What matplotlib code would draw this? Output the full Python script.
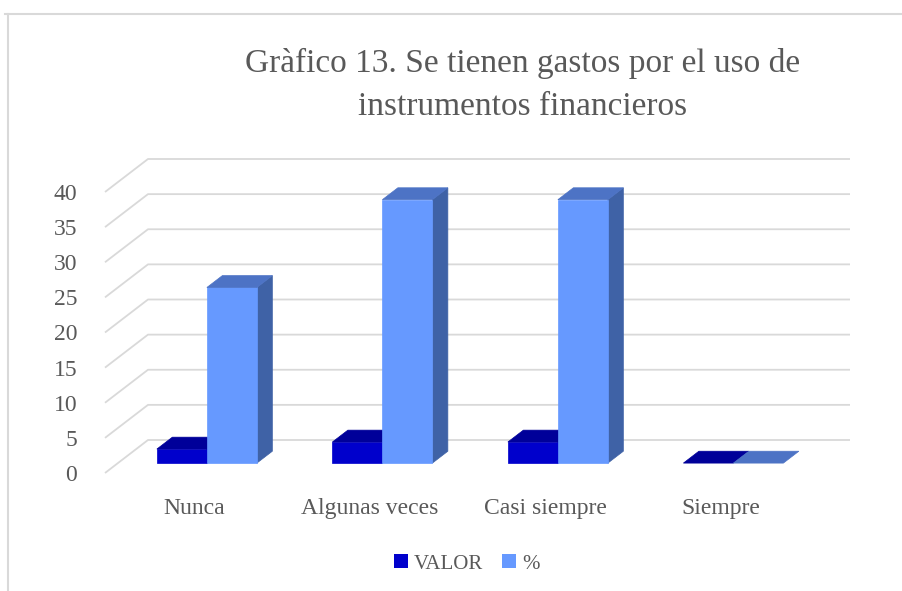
import matplotlib.pyplot as plt
from matplotlib.patches import Polygon, Rectangle, Patch
from matplotlib.lines import Line2D

# Data
categories = ["Nunca", "Algunas veces", "Casi siempre", "Siempre"]
valor = [2, 3, 3, 0]
porcentaje = [25, 37.5, 37.5, 0]
series_names = ["VALOR", "%"]
y_ticks = [0, 5, 10, 15, 20, 25, 30, 35, 40]

TEXT = "#595959"
GRID = "#d9d9d9"
# (front, top, side) colours per series
COLORS = [("#0000cc", "#000099", "#00007a"),
          ("#6699ff", "#4d73c5", "#3f62a6")]

# oblique "3D" depth offset in data units (full floor depth)
DX, DY = 43 / 175.5, 33 / 7.025
D0, D1 = 0.30, 0.66     # bars sit in the middle of the depth
W = 50 / 175.5          # bar width
XMIN, XMAX = -0.507, 3.493


def bar3d(ax, left, h, cols):
    front, top, side = cols
    x0 = left + D0 * DX
    x1 = left + W + D0 * DX
    b0 = D0 * DY
    b1 = D1 * DY
    sx = (D1 - D0) * DX
    if h > 0:
        ax.add_patch(Polygon([(x1, b0), (x1, b0 + h), (x1 + sx, b1 + h), (x1 + sx, b1)],
                             closed=True, facecolor=side, edgecolor=side, lw=0.5, clip_on=False, zorder=3))
        ax.add_patch(Rectangle((x0, b0), W, h, facecolor=front, edgecolor=front, lw=0.5,
                               clip_on=False, zorder=3))
    ax.add_patch(Polygon([(x0, b0 + h), (x1, b0 + h), (x1 + sx, b1 + h), (x0 + sx, b1 + h)],
                         closed=True, facecolor=top, edgecolor=top, lw=0.5, clip_on=False, zorder=3))


fig = plt.figure(figsize=(9.03, 5.91), dpi=100)
ax = fig.add_axes([105 / 903, 118 / 591, 702 / 903, 281 / 591])
ax.set_xlim(XMIN, XMAX)
ax.set_ylim(0, 40)

# gridlines on the side wall and back wall
for v in y_ticks:
    ax.plot([XMIN, XMIN + DX, XMAX + DX], [v, v + DY, v + DY], color=GRID, lw=1.3,
            clip_on=False, zorder=1, solid_capstyle="butt")

for i in range(len(categories)):
    bar3d(ax, i - W, valor[i], COLORS[0])
    bar3d(ax, i, porcentaje[i], COLORS[1])

for s in ax.spines.values():
    s.set_visible(False)
ax.set_yticks(y_ticks)
ax.set_yticklabels([str(v) for v in y_ticks], family="Liberation Serif", fontsize=17, color=TEXT)
ax.set_xticks(range(len(categories)))
ax.set_xticklabels(categories, family="Liberation Serif", fontsize=17, color=TEXT)
ax.tick_params(axis="y", length=0, pad=20)
ax.tick_params(axis="x", length=0, pad=18)

fig.text(523 / 903, 1 - 85 / 591, "Gràfico 13. Se tienen gastos por el uso de\ninstrumentos financieros",
         ha="center", va="center", family="Liberation Serif", fontsize=24, color=TEXT, linespacing=1.55)

handles = [Patch(facecolor=COLORS[0][0], edgecolor="none"),
           Patch(facecolor=COLORS[1][0], edgecolor="none")]
fig.legend(handles, series_names, loc="center", bbox_to_anchor=(467 / 903, 1 - 564 / 591), ncol=2,
           frameon=False, prop={"family": "Liberation Serif", "size": 15}, labelcolor=TEXT,
           handlelength=0.65, handleheight=0.65, handletextpad=0.3, columnspacing=0.9)

# outer chart frame
fig.add_artist(Line2D([5 / 903, 1], [1 - 13.5 / 591] * 2, color=GRID, lw=1.5))
fig.add_artist(Line2D([7.5 / 903] * 2, [0, 1 - 13.5 / 591], color=GRID, lw=1.5))

fig.savefig("out.png", dpi=100)
